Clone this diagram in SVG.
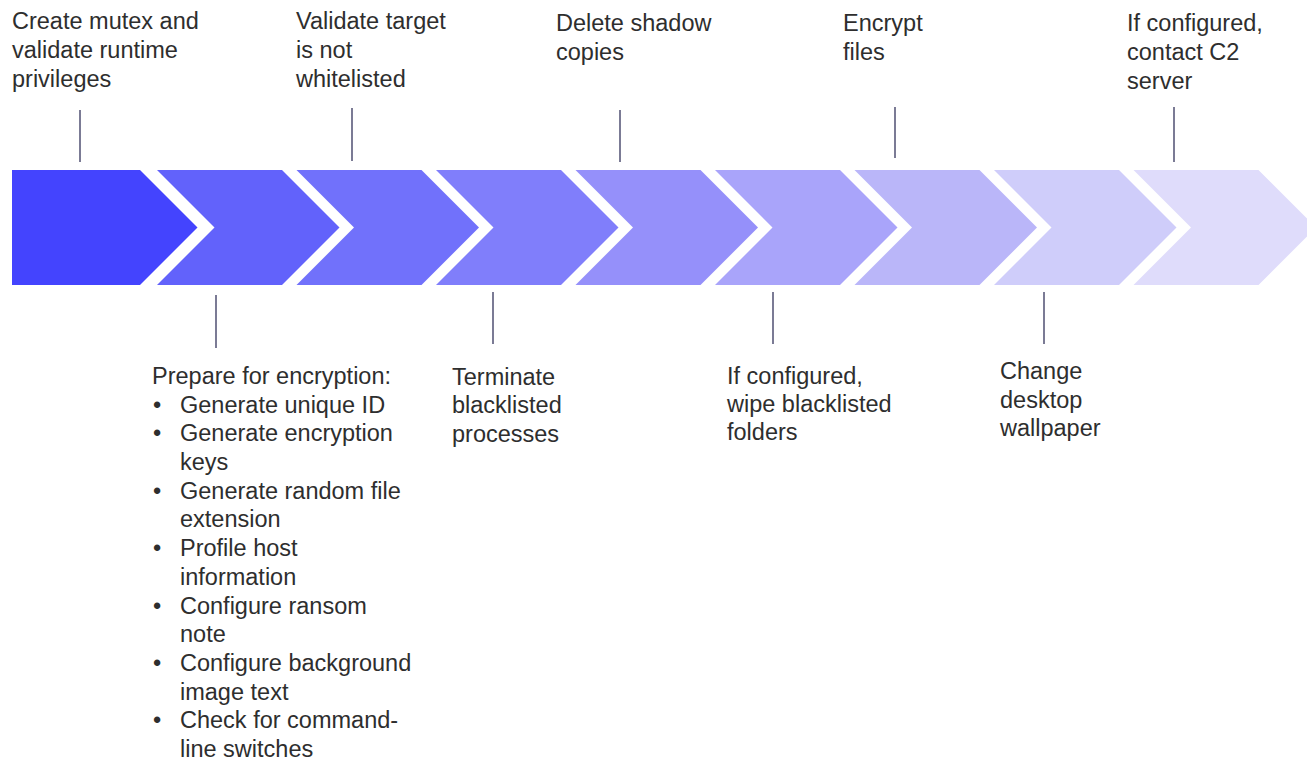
<svg xmlns="http://www.w3.org/2000/svg" width="1307" height="761" viewBox="0 0 1307 761">
  <style>
    .lbl { font-family: "Liberation Sans", Arial, sans-serif; font-size: 23.5px; fill: #2e2e2e; }
    .tick { stroke: #4f4f72; stroke-width: 1.5; fill: none; }
  </style>
  <rect width="1307" height="761" fill="#ffffff"/>

  <!-- process chevrons, darkest first -->
  <g id="stages">
    <polygon id="stage1" points="12,170 140,170 197.5,227.5 140,285 12,285" fill="#4444fe"/>
    <polygon id="stage2" points="157,170 282,170 339.5,227.5 282,285 157,285 214.5,227.5" fill="#6262fb"/>
    <polygon id="stage3" points="296.5,170 421.5,170 479,227.5 421.5,285 296.5,285 354,227.5" fill="#7171fb"/>
    <polygon id="stage4" points="436,170 561,170 618.5,227.5 561,285 436,285 493.5,227.5" fill="#807efb"/>
    <polygon id="stage5" points="575.5,170 700.5,170 758,227.5 700.5,285 575.5,285 633,227.5" fill="#9590fa"/>
    <polygon id="stage6" points="715,170 840,170 897.5,227.5 840,285 715,285 772.5,227.5" fill="#a9a4fa"/>
    <polygon id="stage7" points="854.5,170 979.5,170 1037,227.5 979.5,285 854.5,285 912,227.5" fill="#bab6f9"/>
    <polygon id="stage8" points="994,170 1119,170 1176.5,227.5 1119,285 994,285 1051.5,227.5" fill="#cfcdfa"/>
    <polygon id="stage9" points="1133.5,170 1258.5,170 1316,227.5 1258.5,285 1133.5,285 1191,227.5" fill="#dfdcfb"/>
  </g>

  <!-- leader lines from labels to stages -->
  <g id="connectors">
    <line class="tick" x1="80" y1="110" x2="80" y2="162"/>
    <line class="tick" x1="352" y1="108" x2="352" y2="161"/>
    <line class="tick" x1="620" y1="110" x2="620" y2="162"/>
    <line class="tick" x1="895" y1="107" x2="895" y2="158"/>
    <line class="tick" x1="1174" y1="107" x2="1174" y2="162"/>
    <line class="tick" x1="216" y1="295" x2="216" y2="348"/>
    <line class="tick" x1="493" y1="292" x2="493" y2="344"/>
    <line class="tick" x1="773" y1="292" x2="773" y2="344"/>
    <line class="tick" x1="1044" y1="292" x2="1044" y2="344"/>
  </g>

  <g id="label-mutex">
    <text class="lbl" x="12" y="29">Create mutex and</text>
    <text class="lbl" x="12" y="58">validate runtime</text>
    <text class="lbl" x="12" y="87">privileges</text>
  </g>

  <g id="label-whitelist">
    <text class="lbl" x="296" y="29">Validate target</text>
    <text class="lbl" x="296" y="58">is not</text>
    <text class="lbl" x="296" y="87">whitelisted</text>
  </g>

  <g id="label-shadow">
    <text class="lbl" x="556" y="31">Delete shadow</text>
    <text class="lbl" x="556" y="60">copies</text>
  </g>

  <g id="label-encrypt">
    <text class="lbl" x="843" y="31">Encrypt</text>
    <text class="lbl" x="843" y="60">files</text>
  </g>

  <g id="label-c2">
    <text class="lbl" x="1127" y="31">If configured,</text>
    <text class="lbl" x="1127" y="60">contact C2</text>
    <text class="lbl" x="1127" y="89">server</text>
  </g>

  <g id="label-prepare">
    <text class="lbl" x="152" y="384">Prepare for encryption:</text>
    <text class="lbl" x="153" y="413">•</text><text class="lbl" x="180" y="413">Generate unique ID</text>
    <text class="lbl" x="153" y="441">•</text><text class="lbl" x="180" y="441">Generate encryption</text>
    <text class="lbl" x="180" y="470">keys</text>
    <text class="lbl" x="153" y="499">•</text><text class="lbl" x="180" y="499">Generate random file</text>
    <text class="lbl" x="180" y="527">extension</text>
    <text class="lbl" x="153" y="556">•</text><text class="lbl" x="180" y="556">Profile host</text>
    <text class="lbl" x="180" y="585">information</text>
    <text class="lbl" x="153" y="614">•</text><text class="lbl" x="180" y="614">Configure ransom</text>
    <text class="lbl" x="180" y="642">note</text>
    <text class="lbl" x="153" y="671">•</text><text class="lbl" x="180" y="671">Configure background</text>
    <text class="lbl" x="180" y="700">image text</text>
    <text class="lbl" x="153" y="728">•</text><text class="lbl" x="180" y="728">Check for command-</text>
    <text class="lbl" x="180" y="757">line switches</text>
  </g>

  <g id="label-terminate">
    <text class="lbl" x="452" y="385">Terminate</text>
    <text class="lbl" x="452" y="413">blacklisted</text>
    <text class="lbl" x="452" y="442">processes</text>
  </g>

  <g id="label-wipe">
    <text class="lbl" x="727" y="384">If configured,</text>
    <text class="lbl" x="727" y="412">wipe blacklisted</text>
    <text class="lbl" x="727" y="440">folders</text>
  </g>

  <g id="label-wallpaper">
    <text class="lbl" x="1000" y="379">Change</text>
    <text class="lbl" x="1000" y="408">desktop</text>
    <text class="lbl" x="1000" y="436">wallpaper</text>
  </g>
</svg>
